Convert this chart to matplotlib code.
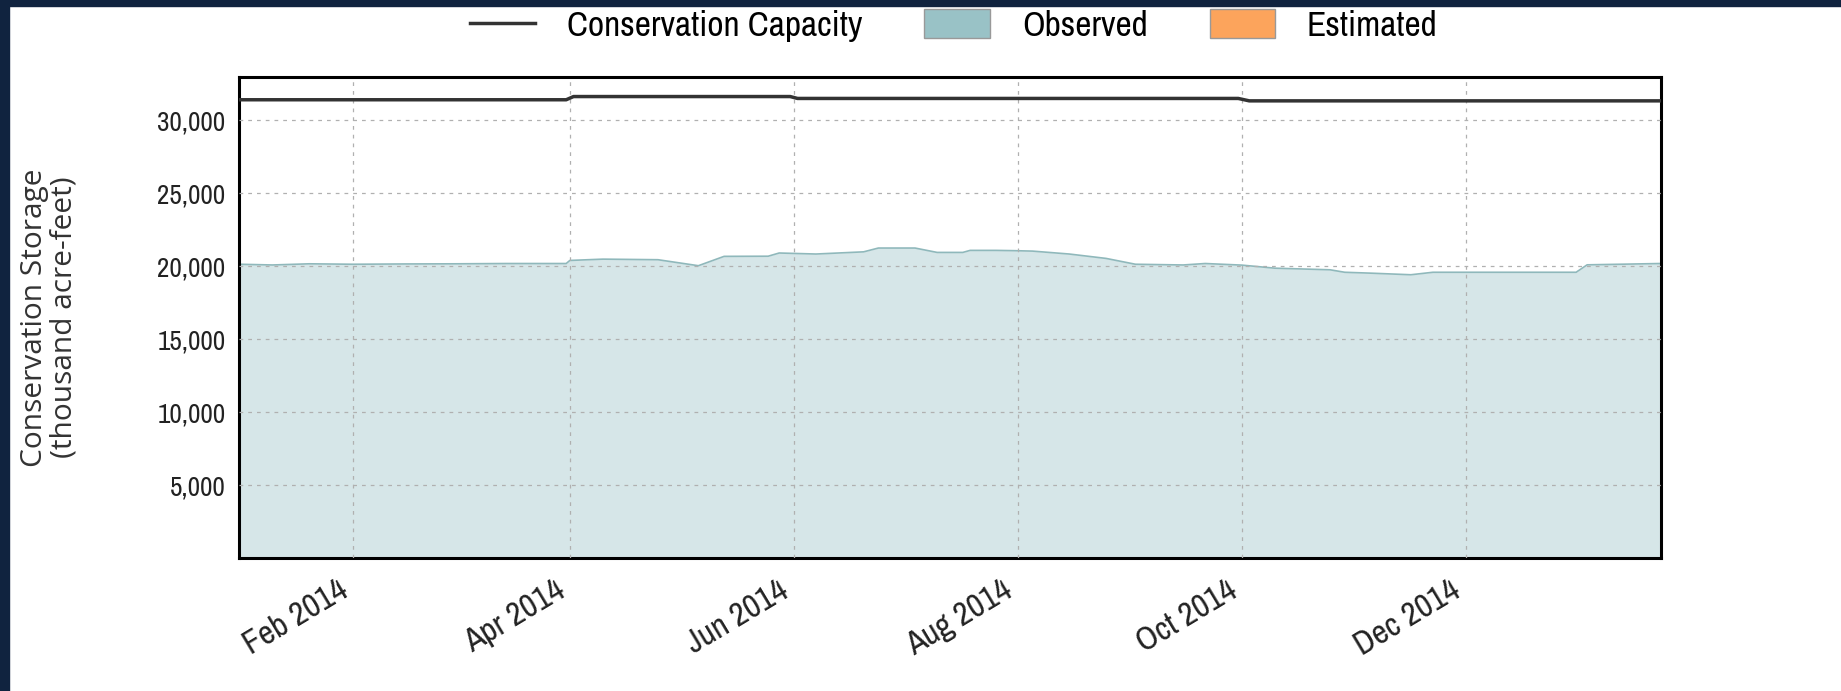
# Conservation storage chart, 2014
import datetime as dt
import matplotlib
matplotlib.use("Agg")
import matplotlib.pyplot as plt
import matplotlib.dates as mdates
import matplotlib.ticker as mticker
from matplotlib.patches import Patch, Rectangle
from matplotlib.lines import Line2D
from matplotlib import font_manager

# ============================================
# Data (thousand acre-feet)
obs_dates = ["2014-01-01", "2014-01-10", "2014-01-20", "2014-02-01", "2014-02-15",
             "2014-03-01", "2014-03-15", "2014-03-31", "2014-04-01", "2014-04-10",
             "2014-04-25", "2014-05-06", "2014-05-13", "2014-05-25", "2014-05-28",
             "2014-06-07", "2014-06-20", "2014-06-24", "2014-07-04", "2014-07-10",
             "2014-07-17", "2014-07-19", "2014-07-26", "2014-07-31", "2014-08-05",
             "2014-08-15", "2014-08-25", "2014-09-02", "2014-09-15", "2014-09-21",
             "2014-10-01", "2014-10-10", "2014-10-25", "2014-10-29", "2014-11-05",
             "2014-11-16", "2014-11-22", "2014-12-01", "2014-12-15", "2014-12-31",
             "2015-01-03", "2015-01-23"]
obs_values = [20150, 20100, 20180, 20150, 20170,
              20180, 20200, 20200, 20410, 20500,
              20460, 20050, 20690, 20700, 20920,
              20850, 21000, 21260, 21260, 20960,
              20960, 21100, 21100, 21080, 21050,
              20850, 20550, 20150, 20100, 20200,
              20090, 19880, 19770, 19600, 19540,
              19430, 19600, 19600, 19600, 19600,
              20110, 20200]

cap_dates = ["2014-01-01", "2014-03-31", "2014-04-02", "2014-05-31", "2014-06-02",
             "2014-09-30", "2014-10-03", "2015-01-23"]
cap_values = [31420, 31420, 31640, 31640, 31510, 31510, 31345, 31345]

y_ticks = [5000, 10000, 15000, 20000, 25000, 30000]
legend_labels = ["Conservation Capacity", "Observed", "Estimated"]
# ============================================

def to_dates(strs):
    return [dt.datetime.strptime(s, "%Y-%m-%d") for s in strs]

# Function pick_font: narrow sans if there is one, else first installed of the list
def pick_font(names):
    fonts = font_manager.fontManager.ttflist
    for f in fonts:
        if ("Narrow" in f.name or "Condensed" in f.name) and "Mono" not in f.name \
                and "Serif" not in f.name:
            return f.name, "normal"
    for f in fonts:
        if f.name == "DejaVu Sans" and str(f.stretch) in ("condensed", "semi-condensed"):
            return "DejaVu Sans", "condensed"
    avail = {f.name for f in fonts}
    for n in names:
        if n in avail:
            return n, "normal"
    return "DejaVu Sans", "normal"

main_font, main_stretch = pick_font(["Lato", "Roboto"])
narrow = main_font != "Lato"
label_font = "Open Sans" if "Open Sans" in {f.name for f in font_manager.fontManager.ttflist} else "DejaVu Sans"

obs_x = to_dates(obs_dates)
cap_x = to_dates(cap_dates)

obs_color = "#99c2c6"
est_color = "#fca45c"
navy = "#10233f"

fig = plt.figure(figsize=(18.41, 6.91), dpi=100)
fig.patch.set_facecolor("white")
ax = fig.add_axes([0.130, 0.192, 0.772, 0.697])

ax.fill_between(obs_x, 0, obs_values, color=obs_color, alpha=0.4, lw=0, zorder=1)
ax.plot(obs_x, obs_values, color="#8fb8bb", lw=1.2, zorder=2)
ax.plot(cap_x, cap_values, color="#333333", lw=2.5, zorder=4)

ax.set_xlim(obs_x[0], obs_x[-1])
ax.set_ylim(0, 33000)

ax.xaxis.set_major_locator(mdates.MonthLocator(bymonth=[2, 4, 6, 8, 10, 12]))
ax.xaxis.set_major_formatter(mdates.DateFormatter("%b %Y"))
ax.yaxis.set_major_locator(mticker.FixedLocator(y_ticks))
ax.yaxis.set_major_formatter(mticker.FuncFormatter(lambda v, p: f"{int(v):,}"))

ax.grid(True, color="#b0b0b0", linestyle=(0, (3, 4)), lw=0.9, zorder=3)
ax.set_axisbelow(False)
ax.tick_params(axis="y", length=0, pad=10)
ax.tick_params(axis="x", length=0, pad=12)
ytick_size = 19.5 if narrow else 15.5
xtick_size = 24 if narrow else 20
for lab in ax.get_yticklabels():
    lab.set_fontfamily(main_font)
    lab.set_fontstretch(main_stretch)
    lab.set_fontsize(ytick_size)
    lab.set_color("#222222")
for lab in ax.get_xticklabels():
    lab.set_fontfamily(main_font)
    lab.set_fontstretch(main_stretch)
    lab.set_fontsize(xtick_size)
    lab.set_rotation(31)
    lab.set_ha("right")
    lab.set_color("#222222")

for sp in ax.spines.values():
    sp.set_linewidth(2.2)
    sp.set_color("black")

ax.set_ylabel("Conservation Storage\n(thousand acre-feet)", fontfamily=label_font,
              fontsize=21.5, color="#333333", linespacing=1.05)
ax.yaxis.set_label_coords(-0.113, 0.5)

handles = [Line2D([0], [0], color="#333333", lw=2.5),
           Patch(facecolor=obs_color, edgecolor="#999999", lw=1),
           Patch(facecolor=est_color, edgecolor="#999999", lw=1)]
leg_size = 25.5 if narrow else 21.5
fig.legend(handles, legend_labels, loc="center", bbox_to_anchor=(0.518, 0.963),
           ncol=3, frameon=False, handlelength=1.85, handleheight=0.85,
           columnspacing=1.75, handletextpad=0.9,
           prop={"family": main_font, "size": leg_size, "stretch": main_stretch})

# dark page border (top and left)
fig.add_artist(Rectangle((0, 1 - 6 / 691), 1, 6 / 691, transform=fig.transFigure,
                         color=navy, zorder=10))
fig.add_artist(Rectangle((0, 0), 9 / 1841, 1, transform=fig.transFigure,
                         color=navy, zorder=10))

fig.savefig("out.png", dpi=100, facecolor="white")
